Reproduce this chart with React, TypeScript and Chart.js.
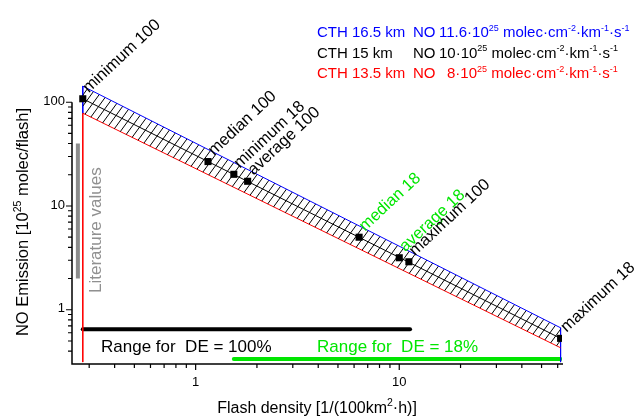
import React, { useEffect, useRef } from 'react';
import { Chart, registerables } from 'chart.js';

Chart.register(...registerables);

// ---- data ----
const pointNames = ['minimum 100', 'median 100', 'minimum 18', 'average 100', 'median 18', 'average 18', 'maximum 100', 'maximum 18'];
const pointDensity = [0.279, 1.15, 1.54, 1.8, 6.35, 10, 11.15, 62];
const pointEmission = [108, 26.8, 20.2, 17.3, 5.0, 3.17, 2.9, 0.53];
const pointLabelColors = ['#000000', '#000000', '#000000', '#000000', '#00e600', '#00e600', '#000000', '#000000'];

const bandDensity = [0.279, 62];
const blueEmission = [143, 0.67];   // CTH 16.5 km
const blackEmission = [108, 0.53];  // CTH 15 km
const redEmission = [78.5, 0.43];   // CTH 13.5 km

const literatureDensity = 0.264;
const literatureRange = [2, 40];
const range100Density = [0.279, 11.3];
const range100Level = 0.648;
const range18Density = [1.54, 62];
const range18Level = 0.335;

const xMajorTicks = [1, 10];
const xMinorTicks = [0.3, 0.4, 0.5, 0.6, 0.7, 0.8, 0.9, 2, 3, 4, 5, 6, 7, 8, 9, 20, 30, 40, 50, 60];
const yMajorTicks = [1, 10, 100];
const yMinorTicks = [0.4, 0.5, 0.6, 0.7, 0.8, 0.9, 2, 3, 4, 5, 6, 7, 8, 9, 20, 30, 40, 50, 60, 70, 80, 90];

const legendCTH = ['CTH 16.5 km', 'CTH 15 km', 'CTH 13.5 km'];
const legendRate = ['11.6', '10', '8'];
const legendColors = ['#0000ff', '#000000', '#ff0000'];

const FONT = '"Liberation Sans", Arial, sans-serif';
const font = (s: number) => `${s}px ${FONT}`;

type Part = [string, boolean];

function richWidth(ctx: CanvasRenderingContext2D, parts: Part[], size: number, supSize: number) {
  let w = 0;
  for (const [t, sup] of parts) {
    ctx.font = font(sup ? supSize : size);
    w += ctx.measureText(t).width;
  }
  return w;
}

function drawRich(ctx: CanvasRenderingContext2D, x: number, y: number, parts: Part[], size: number, supSize: number, color: string) {
  ctx.fillStyle = color;
  ctx.textBaseline = 'alphabetic';
  ctx.textAlign = 'left';
  let cx = x;
  for (const [t, sup] of parts) {
    ctx.font = font(sup ? supSize : size);
    ctx.fillText(t, cx, sup ? y - size * 0.42 : y);
    cx += ctx.measureText(t).width;
  }
  return cx;
}

const decorPlugin = {
  id: 'decor',
  afterDraw(chart: any) {
    const ctx: CanvasRenderingContext2D = chart.ctx;
    const xs = chart.scales.x;
    const ys = chart.scales.y;
    const area = chart.chartArea;
    const px = (v: number) => xs.getPixelForValue(v);
    const py = (v: number) => ys.getPixelForValue(v);
    ctx.save();

    // axes
    ctx.strokeStyle = '#000';
    ctx.lineWidth = 1.5;
    ctx.beginPath();
    ctx.moveTo(area.left, py(100));
    ctx.lineTo(area.left, area.bottom);
    ctx.lineTo(area.right + 1, area.bottom);
    ctx.stroke();

    ctx.lineWidth = 1.2;
    ctx.beginPath();
    for (const v of xMajorTicks) { ctx.moveTo(px(v), area.bottom); ctx.lineTo(px(v), area.bottom + 6); }
    for (const v of xMinorTicks) { ctx.moveTo(px(v), area.bottom); ctx.lineTo(px(v), area.bottom + 4); }
    for (const v of yMajorTicks) { ctx.moveTo(area.left, py(v)); ctx.lineTo(area.left - 6, py(v)); }
    for (const v of yMinorTicks) { ctx.moveTo(area.left, py(v)); ctx.lineTo(area.left - 4, py(v)); }
    ctx.stroke();

    // tick labels
    ctx.fillStyle = '#000';
    ctx.font = font(13);
    ctx.textBaseline = 'middle';
    ctx.textAlign = 'center';
    for (const v of xMajorTicks) ctx.fillText(String(v), px(v), area.bottom + 18);
    ctx.textAlign = 'right';
    for (const v of yMajorTicks) ctx.fillText(String(v), area.left - 7, py(v) - 1);

    // axis titles
    const xt: Part[] = [['Flash density [1/(100km', false], ['2', true], ['·h)]', false]];
    const xw = richWidth(ctx, xt, 16, 10.5);
    drawRich(ctx, (area.left + area.right) / 2 - xw / 2, 413, xt, 16, 10.5, '#000');

    const yt: Part[] = [['NO Emission [10', false], ['25', true], [' molec/flash]', false]];
    const yw = richWidth(ctx, yt, 16.5, 10.5);
    ctx.save();
    ctx.translate(28, 222);
    ctx.rotate(-Math.PI / 2);
    drawRich(ctx, -yw / 2, 0, yt, 16.5, 10.5, '#000');
    ctx.restore();

    // literature label
    ctx.save();
    ctx.translate(100.5, 293);
    ctx.rotate(-Math.PI / 2);
    ctx.font = font(17);
    ctx.fillStyle = '#909090';
    ctx.textAlign = 'left';
    ctx.textBaseline = 'alphabetic';
    ctx.fillText('Literature values', 0, 0);
    ctx.restore();

    // range texts
    ctx.font = font(17);
    ctx.textAlign = 'left';
    ctx.textBaseline = 'alphabetic';
    ctx.fillStyle = '#000';
    ctx.fillText('Range for  DE = 100%', 101, 352);
    ctx.fillStyle = '#00e600';
    ctx.fillText('Range for  DE = 18%', 317, 352);

    // point labels
    for (let i = 0; i < pointNames.length; i++) {
      ctx.save();
      ctx.translate(px(pointDensity[i]) + 6, py(pointEmission[i]) - 5.5);
      ctx.rotate(-43 * Math.PI / 180);
      ctx.font = font(16.5);
      ctx.fillStyle = pointLabelColors[i];
      ctx.textAlign = 'left';
      ctx.textBaseline = 'alphabetic';
      ctx.fillText(pointNames[i], 0, 0);
      ctx.restore();
    }

    // legend
    const rowStarts = [439, 439, 447];
    for (let i = 0; i < legendCTH.length; i++) {
      const y = 37 + i * 20.5;
      const c = legendColors[i];
      ctx.font = font(15);
      ctx.fillStyle = c;
      ctx.textAlign = 'left';
      ctx.textBaseline = 'alphabetic';
      ctx.fillText(legendCTH[i], 317, y);
      ctx.fillText('NO', 413, y);
      const parts: Part[] = [
        [legendRate[i] + '·10', false], ['25', true], [' molec·cm', false], ['-2', true],
        ['·km', false], ['-1', true], ['·s', false], ['-1', true],
      ];
      drawRich(ctx, rowStarts[i], y, parts, 15, 9, c);
    }
    ctx.restore();
  },
};

export default function App() {
  const ref = useRef<HTMLCanvasElement | null>(null);
  useEffect(() => {
    const canvas = ref.current!;
    const ctx = canvas.getContext('2d')!;
    const pc = document.createElement('canvas');
    pc.width = 8; pc.height = 11;
    const p = pc.getContext('2d')!;
    p.strokeStyle = '#000';
    p.lineWidth = 1;
    for (const off of [-8, 0, 8]) {
      p.beginPath(); p.moveTo(off, 11); p.lineTo(off + 8, 0); p.stroke();
    }
    const pattern = ctx.createPattern(pc, 'repeat')!;

    const line = (xsArr: number[], ysArr: number[]) => xsArr.map((x, i) => ({ x, y: ysArr[i] }));
    const common = { pointRadius: 0, borderWidth: 1, tension: 0, showLine: true, fill: false };

    const chart = new Chart(canvas, {
      type: 'line',
      data: {
        datasets: [
          {
            data: line(pointDensity, pointEmission), showLine: false, pointStyle: 'rect',
            pointRadius: 5, backgroundColor: '#000', borderColor: '#000', borderWidth: 0,
          },
          { ...common, data: line(bandDensity, blackEmission), borderColor: '#000' },
          { ...common, data: line(bandDensity, blueEmission), borderColor: '#0000ff', fill: '+1', backgroundColor: pattern },
          { ...common, data: line(bandDensity, redEmission), borderColor: '#ff0000' },
          { ...common, data: line([bandDensity[0], bandDensity[0]], [blueEmission[0], redEmission[0]]), borderColor: '#0000ff' },
          { ...common, data: line([bandDensity[0], bandDensity[0]], [redEmission[0], 0.313]), borderColor: '#ff0000' },
          { ...common, data: line([bandDensity[1], bandDensity[1]], [blueEmission[1], 0.313]), borderColor: '#0000ff' },
          { ...common, data: line(range100Density, [range100Level, range100Level]), borderColor: '#000', borderWidth: 4, borderCapStyle: 'round' },
          { ...common, data: line(range18Density, [range18Level, range18Level]), borderColor: '#00e600', borderWidth: 4, borderCapStyle: 'round' },
          { ...common, data: line([literatureDensity, literatureDensity], literatureRange), borderColor: '#8c8c8c', borderWidth: 4 },
        ] as any,
      },
      options: {
        animation: false,
        responsive: false,
        maintainAspectRatio: false,
        layout: { padding: { left: 72, right: 74, top: 71, bottom: 54 } },
        plugins: { legend: { display: false }, tooltip: { enabled: false } },
        scales: {
          x: { type: 'logarithmic', min: 0.247, max: 63, display: false },
          y: { type: 'logarithmic', min: 0.313, max: 200, display: false },
        },
      } as any,
      plugins: [decorPlugin],
    });
    return () => chart.destroy();
  }, []);
  return (
    <div style={{ position: 'fixed', left: 0, top: 0, width: 636, height: 418, background: '#fff' }}>
      <canvas ref={ref} width={636} height={418} style={{ width: 636, height: 418, display: 'block' }} />
    </div>
  );
}
